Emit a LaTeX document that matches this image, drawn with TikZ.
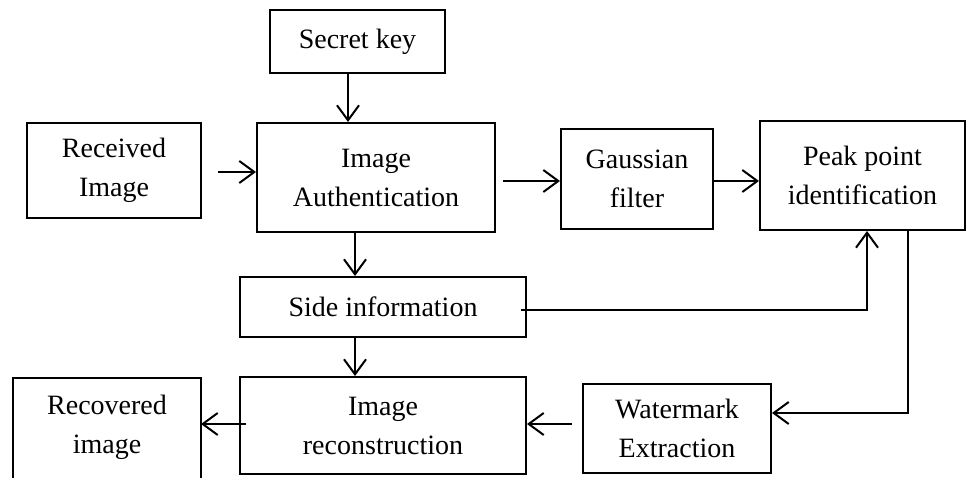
\documentclass[tikz,border=0pt]{standalone}
\usepackage{fontspec}
\setmainfont{Liberation Serif}
\usetikzlibrary{arrows.meta}
\begin{document}
\begin{tikzpicture}[x=1pt,y=-1pt,
  box/.style={draw,line width=2pt,rectangle,align=center,inner sep=0pt,
    font=\fontsize{28}{39}\selectfont},
  txt/.style={align=center,inner sep=0pt,font=\fontsize{28}{39}\selectfont},
  arr/.style={line width=2pt,-{Straight Barb[length=15pt,width=22pt,line width=2pt]}},
  ln/.style={line width=2pt}]
\useasboundingbox (0,0) rectangle (968,478);
\node[box,minimum width=175,minimum height=63] (sk) at (357.5,41.5) {Secret key};
\node[box,minimum width=174,minimum height=95] (rcv) at (114,170.5) {Received\\Image};
\node[box,minimum width=238,minimum height=109] (auth) at (376,177.5) {Image\\Authentication};
\node[box,minimum width=152,minimum height=100] (gauss) at (637,179) {Gaussian\\filter};
\node[box,minimum width=205,minimum height=109] (peak) at (862.5,175.5) {Peak point\\identification};
\node[box,minimum width=286,minimum height=60] (side) at (383,307) {Side information};
\node[box,minimum width=286,minimum height=97] (recon) at (383,425.5) {Image\\reconstruction};
\node[box,minimum width=188,minimum height=89] (wm) at (677,428.5) {Watermark\\Extraction};
\node[txt] (rec) at (107,427) {Recovered\\image};
\draw[ln] (13,490) -- (13,378) -- (201,378) -- (201,490);
\coordinate (recR) at (201,424);
\coordinate (c1) at (867,310);
\coordinate (c2) at (908,413);
% arrows
\draw[arr] (sk.south -| 348,0) -- (auth.north -| 348,0);
\draw[arr,shorten <=16pt] (rcv.east |- 0,172) -- (auth.west |- 0,172);
\draw[arr,shorten <=7pt] (auth.east |- 0,181) -- (gauss.west |- 0,181);
\draw[arr] (gauss.east |- 0,181) -- (peak.west |- 0,181);
\draw[arr] (auth.south -| 355,0) -- (side.north -| 355,0);
\draw[arr] (side.south -| 355,0) -- (recon.north -| 355,0);
\draw[arr,shorten <=-6pt] (side.east |- c1) -- (c1) -- (peak.south -| c1);
\draw[arr] (peak.south -| c2) -- (c2) -- (wm.east |- c2);
\draw[arr,shorten <=10pt] (wm.west |- recR) -- (recon.east |- recR);
\draw[arr,shorten <=-7pt] (recon.west |- recR) -- (recR);
\end{tikzpicture}
\end{document}
